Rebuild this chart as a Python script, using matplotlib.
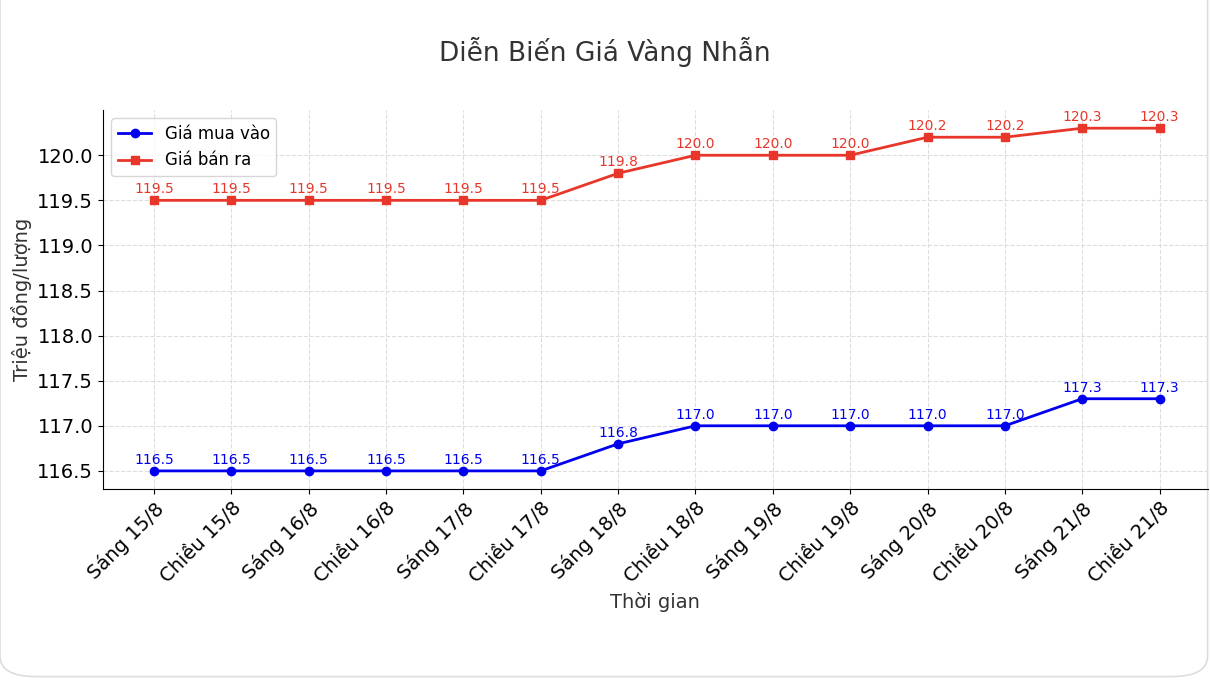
import matplotlib.pyplot as plt
from matplotlib.patches import FancyBboxPatch

labels = ['Sáng 15/8', 'Chiều 15/8', 'Sáng 16/8', 'Chiều 16/8', 'Sáng 17/8', 'Chiều 17/8',
          'Sáng 18/8', 'Chiều 18/8', 'Sáng 19/8', 'Chiều 19/8', 'Sáng 20/8', 'Chiều 20/8',
          'Sáng 21/8', 'Chiều 21/8']
buy = [116.5, 116.5, 116.5, 116.5, 116.5, 116.5, 116.8, 117.0, 117.0, 117.0, 117.0, 117.0, 117.3, 117.3]
sell = [119.5, 119.5, 119.5, 119.5, 119.5, 119.5, 119.8, 120.0, 120.0, 120.0, 120.2, 120.2, 120.3, 120.3]

fig = plt.figure(figsize=(12.1, 6.8), dpi=100)
fig.patches.append(FancyBboxPatch((0.0, 0.005), 0.998, 1.2, boxstyle='round,pad=0,rounding_size=0.03',
                                  transform=fig.transFigure, fc='white', ec='#dddddd', lw=1.2,
                                  zorder=-10))
ax = fig.add_axes([0.085, 0.281, 0.913, 0.557])
ax.patch.set_alpha(0)
x = range(len(labels))
ax.plot(x, buy, '-o', color='#0000ee', lw=2, ms=6, label='Giá mua vào')
ax.plot(x, sell, '-s', color='#e8372a', lw=2, ms=6, label='Giá bán ra')
for i in x:
    ax.annotate(f'{buy[i]:.1f}', (i, buy[i]), xytext=(0, 3), textcoords='offset points',
                ha='center', va='bottom', fontsize=10, color='#0000ee')
    ax.annotate(f'{sell[i]:.1f}', (i, sell[i]), xytext=(0, 3), textcoords='offset points',
                ha='center', va='bottom', fontsize=10, color='#e8372a')

ax.set_xlim(-0.66, 13.62)
ax.set_ylim(116.3, 120.5)
ax.set_yticks([116.5 + 0.5 * k for k in range(8)])
ax.set_xticks(list(x))
ax.set_xticklabels(labels, rotation=45, ha='right', rotation_mode='anchor', fontsize=14)
ax.tick_params(axis='y', labelsize=14)
ax.grid(True, linestyle='--', color='#dddddd', lw=0.8)
ax.spines['top'].set_visible(False)
ax.spines['right'].set_visible(False)
ax.set_xlabel('Thời gian', fontsize=14, color='#333333')
ax.set_ylabel('Triệu đồng/lượng', fontsize=14, color='#333333')
fig.suptitle('Diễn Biến Giá Vàng Nhẫn', y=0.945, fontsize=19, color='#333333')
ax.legend(loc='upper left', fontsize=12)

fig.savefig('out.png', dpi=100)
